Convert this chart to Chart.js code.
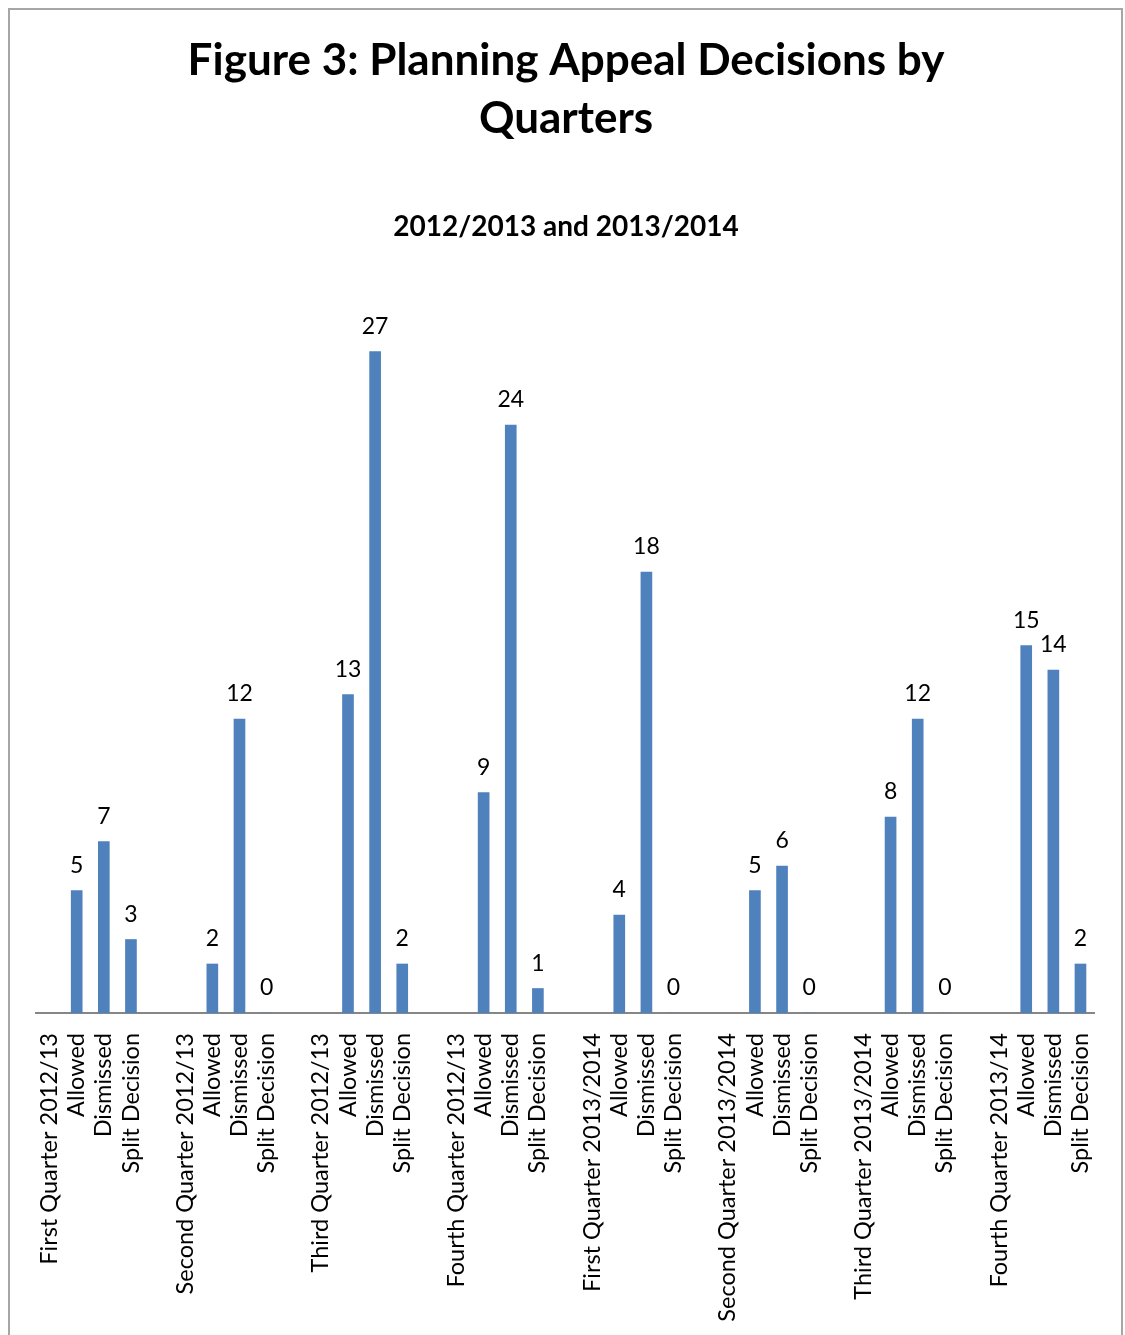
<!DOCTYPE html>
<html>
<head>
<meta charset="utf-8">
<script src="https://cdn.jsdelivr.net/npm/chart.js@4.4.1/dist/chart.umd.min.js"></script>
<style>
  html, body { margin: 0; padding: 0; background: #fff; }
  #frame {
    position: absolute; left: 8px; top: 8px;
    width: 1111px; height: 1340px;
    border: 2px solid #a6a6a6; background: #fff;
  }
  #frame canvas { display: block; }
</style>
</head>
<body>
<div id="frame"><canvas id="appeals" width="1111" height="1325"></canvas></div>
<script>
// categories: quarter heading, its three outcomes, then a spacer slot
const categories = [
  "First Quarter 2012/13", "Allowed", "Dismissed", "Split Decision", "",
  "Second Quarter 2012/13", "Allowed", "Dismissed", "Split Decision", "",
  "Third Quarter 2012/13", "Allowed", "Dismissed", "Split Decision", "",
  "Fourth Quarter 2012/13", "Allowed", "Dismissed", "Split Decision", "",
  "First Quarter 2013/2014", "Allowed", "Dismissed", "Split Decision", "",
  "Second Quarter 2013/2014", "Allowed", "Dismissed", "Split Decision", "",
  "Third Quarter 2013/2014", "Allowed", "Dismissed", "Split Decision", "",
  "Fourth Quarter 2013/14", "Allowed", "Dismissed", "Split Decision"
];

const decisions = [
  null, 5, 7, 3, null,
  null, 2, 12, 0, null,
  null, 13, 27, 2, null,
  null, 9, 24, 1, null,
  null, 4, 18, 0, null,
  null, 5, 6, 0, null,
  null, 8, 12, 0, null,
  null, 15, 14, 2
];

const titleLines = ["Figure 3: Planning Appeal Decisions by", "Quarters"];
const subtitleText = "2012/2013 and 2013/2014";

const FONT = "Lato, 'Open Sans', sans-serif";

// writes the value above each bar
const valueLabels = {
  id: "valueLabels",
  afterDatasetsDraw(chart) {
    const ctx = chart.ctx;
    const meta = chart.getDatasetMeta(0);
    ctx.save();
    ctx.fillStyle = "#000";
    ctx.font = "23px " + FONT;
    ctx.textAlign = "center";
    ctx.textBaseline = "alphabetic";
    meta.data.forEach((bar, i) => {
      const v = decisions[i];
      if (v === null) return;
      ctx.fillText(String(v), bar.x, bar.y - 18);
    });
    ctx.restore();
  }
};

const chart = new Chart(document.getElementById("appeals"), {
  type: "bar",
  data: {
    labels: categories,
    datasets: [{
      data: decisions,
      backgroundColor: "#4f81bd",
      barThickness: 11
    }]
  },
  options: {
    responsive: false,
    animation: false,
    layout: { padding: { left: 26, right: 25, top: 0, bottom: 0 } },
    plugins: {
      legend: { display: false },
      tooltip: { enabled: false },
      title: {
        display: true,
        text: titleLines,
        color: "#000",
        font: { family: FONT, size: 44, weight: "bold", lineHeight: "58px" },
        padding: { top: 22, bottom: 0 }
      },
      subtitle: {
        display: true,
        text: subtitleText,
        color: "#000",
        font: { family: FONT, size: 28, weight: "bold", lineHeight: "29px" },
        padding: { top: 64, bottom: 37 }
      }
    },
    scales: {
      x: {
        grid: { display: false },
        border: { color: "#868686", width: 2 },
        ticks: {
          autoSkip: false,
          maxRotation: 90,
          minRotation: 90,
          padding: 12,
          color: "#000",
          font: { family: FONT, size: 23.5 }
        },
        afterFit(scale) { scale.height = 322; }
      },
      y: {
        display: false,
        min: 0,
        max: 30
      }
    }
  },
  plugins: [valueLabels]
});
</script>
</body>
</html>
